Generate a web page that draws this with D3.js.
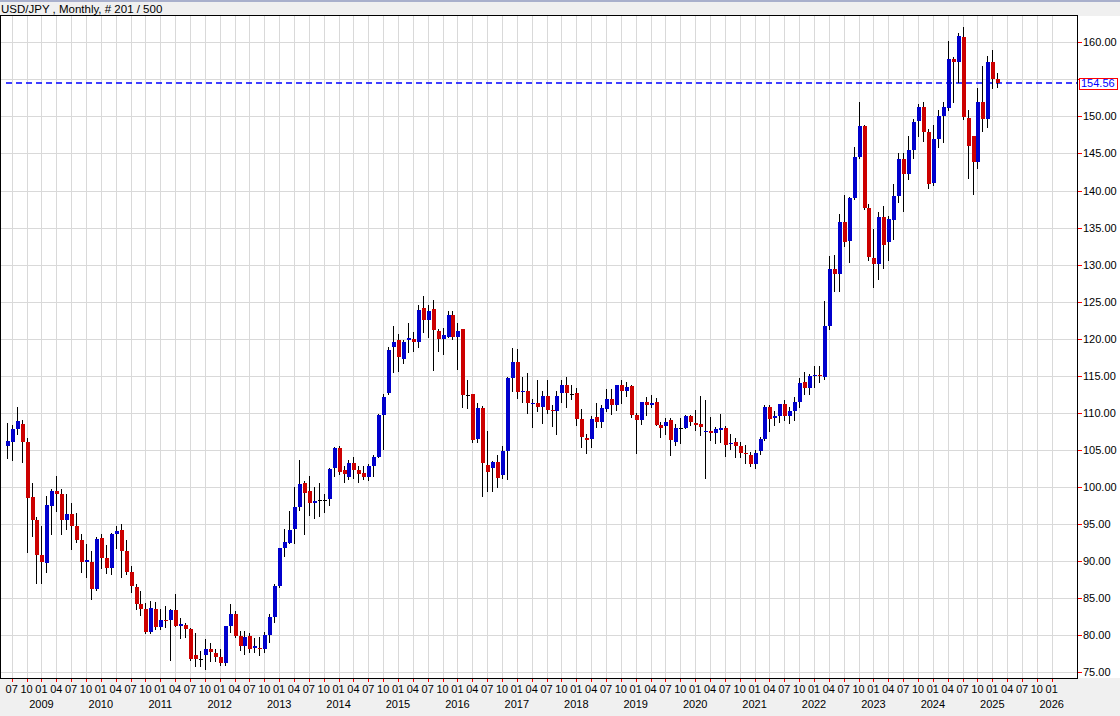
<!DOCTYPE html>
<html><head><meta charset="utf-8">
<script src="https://cdn.jsdelivr.net/npm/d3@7/dist/d3.min.js"></script>
<style>
html,body{margin:0;padding:0;background:#f0f0f0;}
svg{display:block;}
text{font-family:"Liberation Sans",Arial,sans-serif;}
</style></head>
<body>
<svg id="chart" width="1120" height="716"></svg>
<script>
// ---- DATA (monthly USD/JPY, Jun 2008 .. Feb 2025) ----
const title = "USD/JPY , Monthly, # 201 / 500";
const startYear = 2008, startMonth = 6; // first bar = June 2008
const lastPrice = 154.56;
const priceTicks = [75,80,85,90,95,100,105,110,115,120,125,130,135,140,145,150,155,160];
const quarterLabels = ["01","04","07","10"];

const opens = [
 105.5,106.1,107.8,108.5,106.1,98.6,95.5,
 90.8,89.8,97.4,99.4,99.0,95.6,96.3,94.8,92.9,89.9,89.9,86.3,
 93.1,90.4,89.1,93.6,94.2,91.3,88.5,86.5,84.2,83.6,80.4,83.6,
 81.1,82.1,82.0,83.4,81.3,81.4,80.8,77.3,76.8,77.3,78.2,77.6,
 77.1,76.3,81.3,82.9,79.9,78.6,79.9,78.3,78.3,78.1,80.0,82.5,
 86.6,91.8,92.5,94.3,97.3,100.5,99.4,97.9,98.3,98.3,98.4,102.5,
 105.2,102.3,101.3,103.3,102.3,101.9,101.3,102.8,104.1,109.7,112.7,118.9,
 119.8,117.3,119.8,120.0,119.5,124.1,122.5,124.0,121.1,120.0,120.3,123.2,
 120.2,121.3,112.4,112.5,106.5,110.6,103.0,102.5,103.4,101.6,104.9,114.7,
 116.8,112.8,113.0,111.3,111.4,110.8,112.3,110.4,110.2,112.7,113.7,112.6,
 112.7,109.2,106.6,106.5,109.4,108.8,110.5,111.9,111.0,113.7,112.9,113.6,
 109.7,109.0,111.5,111.1,111.5,108.4,108.2,109.0,106.1,108.0,108.0,109.6,
 108.7,108.5,107.4,107.6,107.3,107.7,108.0,105.8,106.1,105.5,104.6,104.3,
 103.1,104.8,106.5,110.8,109.3,109.6,111.2,109.6,110.2,111.5,114.1,113.4,
 115.0,115.1,114.9,121.7,129.4,128.7,135.8,133.2,139.0,144.5,148.7,137.6,
 130.9,130.1,136.4,133.0,136.0,139.2,144.3,142.2,145.5,149.4,151.3,147.9,
 141.0,147.0,150.1,151.2,157.8,157.3,160.7,149.8,147.3,143.8,152.0,149.6,
 157.3,155.1
];
const highs = [
 108.6,108.3,110.8,109.1,106.6,100.6,95.9,
 94.7,98.8,99.7,101.5,99.7,99.0,97.8,96.5,93.6,92.3,91.4,93.2,
 93.6,92.2,93.8,94.8,95.0,92.9,89.3,86.9,86.0,84.3,84.6,84.5,
 83.6,84.0,83.5,85.6,82.3,81.7,81.0,80.3,77.9,79.5,79.0,78.2,
 78.2,81.3,84.2,83.3,80.6,80.6,80.3,79.6,79.8,80.4,82.8,86.9,
 91.8,94.4,96.7,100.0,103.7,100.8,101.5,100.0,100.6,99.0,102.6,105.4,
 105.5,102.8,103.7,104.1,102.8,102.8,103.1,104.3,109.9,112.6,118.9,121.7,
 120.6,119.9,122.1,120.9,124.5,125.8,124.5,125.2,121.3,121.5,123.8,123.7,
 122.1,121.3,114.5,112.5,111.4,110.9,107.5,103.5,104.3,105.5,114.9,118.7,
 118.6,114.9,115.4,111.9,114.4,112.9,114.5,111.1,113.0,114.5,114.9,113.7,
 113.4,110.5,107.2,109.6,111.4,111.0,113.2,113.2,113.7,114.5,114.2,113.8,
 110.0,111.5,112.1,112.4,112.0,108.8,109.3,109.3,108.5,109.3,109.7,109.7,
 110.4,112.3,111.7,109.4,108.1,109.9,108.2,107.1,106.6,106.1,105.7,104.7,
 105.0,106.7,111.0,111.0,110.2,111.2,111.7,110.8,112.1,114.7,115.5,115.2,
 116.3,116.3,125.1,131.2,131.3,136.9,139.4,139.1,145.9,152.0,148.8,138.2,
 134.8,137.1,137.9,136.6,140.9,145.1,145.1,147.4,149.7,151.7,151.9,148.3,
 148.8,150.9,152.0,160.2,158.0,161.3,162.0,150.9,147.3,153.9,156.8,158.1,
 158.9,155.9
];
const lows = [
 103.9,103.7,107.2,103.4,91.2,93.4,87.1,
 87.1,88.6,93.6,96.8,93.7,94.3,91.7,92.6,88.6,87.9,84.9,86.1,
 89.1,88.4,88.2,91.8,87.9,88.3,85.9,83.5,82.7,80.3,80.3,80.9,
 80.9,81.1,76.6,81.3,79.6,79.7,76.7,75.9,75.9,75.5,76.5,76.5,
 76.0,76.0,80.5,79.7,78.0,77.5,77.8,77.7,77.3,77.7,79.1,81.8,
 86.5,90.7,92.4,92.5,96.9,93.7,96.2,95.8,96.1,96.6,97.6,101.5,
 101.8,100.7,101.1,101.2,100.7,101.1,100.9,101.5,104.0,105.1,112.6,115.5,
 115.7,116.7,118.2,118.3,118.9,120.9,120.3,115.8,118.4,118.0,120.3,120.0,
 115.9,110.8,110.6,106.1,106.1,98.8,99.4,99.4,100.0,101.2,101.1,112.9,
 112.0,111.5,110.0,108.1,110.2,108.7,110.0,108.2,107.2,111.5,110.8,111.9,
 108.3,105.4,104.6,105.4,108.1,108.1,110.3,109.8,110.4,111.4,112.3,109.5,
 104.6,108.5,109.7,110.8,108.3,106.8,107.2,104.3,105.7,105.9,107.9,108.4,
 107.7,107.0,101.2,106.4,106.0,106.1,104.2,105.1,104.0,104.0,103.2,102.9,
 102.6,104.4,106.4,107.5,108.3,108.8,109.1,108.7,109.1,110.8,112.5,112.6,
 113.5,114.2,114.6,121.3,126.4,126.4,132.5,130.4,138.8,144.4,137.5,130.6,
 127.0,128.1,129.6,130.6,133.5,138.4,137.2,141.5,144.4,147.3,146.7,140.3,
 140.8,145.9,146.5,150.8,151.9,154.6,149.6,141.7,139.6,143.0,148.0,148.6,
 153.8,154.0
];
const closes = [
 106.2,107.8,108.9,106.1,98.5,95.6,90.8,
 89.9,97.6,99.4,99.0,95.5,96.3,94.8,92.9,89.9,90.2,86.3,93.0,
 90.4,89.1,93.6,94.0,91.3,88.6,86.6,84.2,83.6,80.4,83.7,81.1,
 82.1,82.0,83.4,81.3,81.5,80.8,76.8,76.8,76.8,78.2,77.7,77.0,
 76.3,81.3,82.9,79.9,78.6,79.8,78.1,78.5,78.1,80.0,82.4,86.7,
 91.8,92.6,94.2,97.3,100.4,99.2,97.9,98.1,98.3,98.3,102.4,105.3,
 102.0,101.7,103.3,102.3,101.7,101.3,102.8,104.1,109.7,112.2,118.5,119.6,
 117.5,119.6,120.1,119.5,123.9,122.5,123.8,121.2,120.0,120.5,123.2,120.2,
 121.1,112.4,112.4,106.3,110.6,103.2,102.0,103.4,101.2,104.9,114.7,116.8,
 112.8,113.0,111.3,111.4,110.8,112.3,110.4,110.2,112.3,113.7,112.7,112.6,
 109.2,106.8,106.4,109.2,108.8,110.6,111.9,111.0,113.7,112.9,113.5,109.7,
 109.0,111.5,111.1,111.4,108.4,107.9,108.8,106.3,108.0,108.0,109.6,108.8,
 108.4,108.1,107.6,107.3,107.8,108.0,105.7,106.0,105.5,104.6,104.4,103.1,
 104.6,106.5,110.8,109.2,109.6,111.2,109.6,110.2,111.5,114.0,113.4,115.0,
 115.1,115.0,121.7,129.4,128.8,135.8,133.1,139.0,144.5,148.7,137.6,131.0,
 130.1,136.4,132.7,136.2,139.2,144.3,142.2,145.5,149.3,151.3,147.9,140.9,
 147.0,150.1,151.3,157.8,157.3,160.8,149.9,146.0,143.8,152.0,149.6,157.3,
 155.0,154.56
];

// ---- LAYOUT ----
const W = 1120, H = 716;
const plot = {left:1, top:16, right:1077, bottom:678};
const svg = d3.select("#chart");

const bars = opens.map((o,i)=>({i, o, h:highs[i], l:lows[i], c:closes[i]}));

// month index scale (index 0 = first bar)
const x = d3.scaleLinear().domain([-1.1608, 216.1]).range([plot.left, plot.right]);
const y = d3.scaleLinear().domain([75,160]).range([672.3, 42.3]);

// backgrounds
svg.append("rect").attr("width",W).attr("height",H).attr("fill","#f0f0f0");
svg.append("rect").attr("x",0).attr("y",0).attr("width",W).attr("height",2).attr("fill","#a9b0cc");
svg.append("rect").attr("x",plot.left).attr("y",plot.top).attr("width",W-plot.left).attr("height",plot.bottom-plot.top).attr("fill","#ffffff");

svg.append("text").attr("x",1).attr("y",12.5).attr("font-size","11.5px").attr("fill","#000").text(title);

// quarterly ticks: month index where month is Jan/Apr/Jul/Oct
const monthOf = i => ((startMonth - 1 + i) % 12) + 1;
const yearOf = i => startYear + Math.floor((startMonth - 1 + i) / 12);
const tickIdx = d3.range(0, 213).filter(i => monthOf(i) % 3 === 1);

const grid = svg.append("g").attr("shape-rendering","crispEdges");
grid.selectAll("line.v").data(tickIdx).join("line")
  .attr("x1",d=>Math.round(x(d))+0.5).attr("x2",d=>Math.round(x(d))+0.5)
  .attr("y1",plot.top).attr("y2",plot.bottom).attr("stroke","#d9d9d9").attr("stroke-width",1);
grid.selectAll("line.h").data(priceTicks).join("line")
  .attr("x1",plot.left).attr("x2",plot.right)
  .attr("y1",d=>Math.round(y(d))+0.5).attr("y2",d=>Math.round(y(d))+0.5).attr("stroke","#d9d9d9").attr("stroke-width",1);

// current price dashed line
svg.append("line").attr("x1",6).attr("x2",plot.right).attr("y1",Math.round(y(lastPrice))).attr("y2",Math.round(y(lastPrice)))
  .attr("stroke","#0000ff").attr("stroke-width",1.4).attr("stroke-dasharray","6,4");

// candles
const cg = svg.append("g").attr("shape-rendering","crispEdges");
const bw = 4;
cg.selectAll("line.wick").data(bars).join("line")
  .attr("x1",d=>Math.round(x(d.i))+0.5).attr("x2",d=>Math.round(x(d.i))+0.5)
  .attr("y1",d=>Math.round(y(d.h))).attr("y2",d=>Math.round(y(d.l))+1)
  .attr("stroke","#000").attr("stroke-width",1);
cg.selectAll("rect.body").data(bars).join("rect")
  .attr("x",d=>Math.round(x(d.i))-1.5)
  .attr("y",d=>Math.round(y(Math.max(d.o,d.c))))
  .attr("width",bw)
  .attr("height",d=>Math.max(1, Math.round(y(Math.min(d.o,d.c))) - Math.round(y(Math.max(d.o,d.c)))))
  .attr("fill",d=>d.c>d.o ? "#0000cc" : (d.c<d.o ? "#cc0000" : "#000000"));

// frame
const fr = svg.append("g").attr("shape-rendering","crispEdges").attr("stroke","#000").attr("stroke-width",1);
fr.append("line").attr("x1",0.5).attr("x2",0.5).attr("y1",plot.top).attr("y2",plot.bottom+1);
fr.append("line").attr("x1",0).attr("x2",plot.right+1).attr("y1",plot.top-0.5).attr("y2",plot.top-0.5);
fr.append("line").attr("x1",plot.right+0.5).attr("x2",plot.right+0.5).attr("y1",plot.top).attr("y2",plot.bottom+1);
fr.append("line").attr("x1",0).attr("x2",plot.right+1).attr("y1",plot.bottom+0.5).attr("y2",plot.bottom+0.5);

// right axis (labels hidden under the current-price box are not drawn)
const visibleTicks = priceTicks.filter(d => Math.abs(y(d) - y(lastPrice)) > 8);
const ra = svg.append("g");
ra.selectAll("line").data(priceTicks).join("line")
  .attr("x1",plot.right+1).attr("x2",plot.right+5)
  .attr("y1",d=>Math.round(y(d))+0.5).attr("y2",d=>Math.round(y(d))+0.5)
  .attr("stroke","#ff0000").attr("shape-rendering","crispEdges");
ra.selectAll("text").data(visibleTicks).join("text")
  .attr("x",plot.right+6).attr("y",d=>y(d)+4)
  .attr("font-size","11px").attr("fill","#000").text(d=>d.toFixed(2));

// current price box
const pb = svg.append("g");
pb.append("rect").attr("x",1079.5).attr("y",Math.round(y(lastPrice))-4.5).attr("width",38).attr("height",11)
  .attr("fill","#fff").attr("stroke","#ff0000").attr("shape-rendering","crispEdges");
pb.append("text").attr("x",1081).attr("y",y(lastPrice)+4.2).attr("font-size","11px").attr("fill","#0000ff").text(lastPrice.toFixed(2));

// bottom axis
const ba = svg.append("g");
ba.selectAll("line").data(tickIdx).join("line")
  .attr("x1",d=>Math.round(x(d))+0.5).attr("x2",d=>Math.round(x(d))+0.5)
  .attr("y1",plot.bottom+1).attr("y2",plot.bottom+4)
  .attr("stroke","#ff0000").attr("shape-rendering","crispEdges");
ba.selectAll("text.m").data(tickIdx).join("text")
  .attr("x",d=>x(d)).attr("y",693).attr("text-anchor","middle")
  .attr("font-size","11px").attr("fill","#000")
  .text(d=>quarterLabels[(monthOf(d)-1)/3]);
ba.selectAll("text.yr").data(tickIdx.filter(d=>monthOf(d)===1)).join("text")
  .attr("x",d=>x(d)).attr("y",708).attr("text-anchor","middle")
  .attr("font-size","11px").attr("fill","#000")
  .text(d=>yearOf(d));
</script>
</body></html>
